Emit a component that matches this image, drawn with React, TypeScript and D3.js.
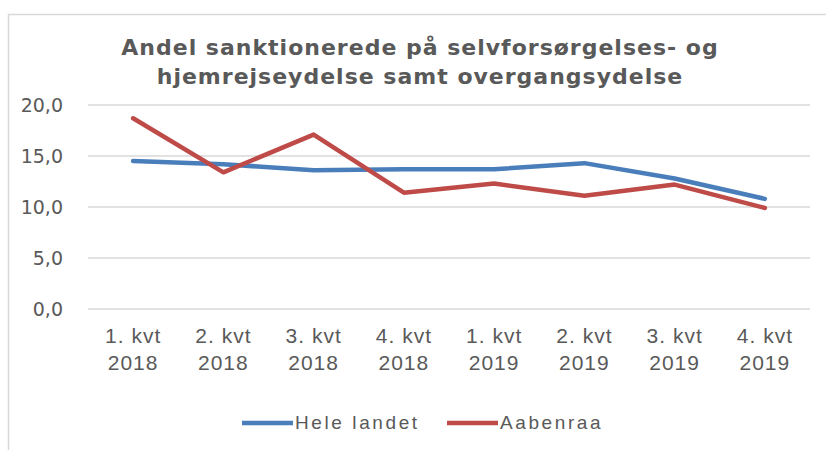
import React from 'react';
import * as d3 from 'd3';

const QUARTERS = ['1. kvt', '2. kvt', '3. kvt', '4. kvt', '1. kvt', '2. kvt', '3. kvt', '4. kvt'];
const YEARS = ['2018', '2018', '2018', '2018', '2019', '2019', '2019', '2019'];
const HELE_LANDET = [14.5, 14.2, 13.6, 13.7, 13.7, 14.3, 12.8, 10.8];
const AABENRAA = [18.7, 13.4, 17.1, 11.4, 12.3, 11.1, 12.2, 9.9];
const Y_TICKS = [0, 5, 10, 15, 20];
const TITLE_LINES = ['Andel sanktionerede på selvforsørgelses- og', 'hjemrejseydelse samt overgangsydelse'];

const SERIES = [
  { name: 'Hele landet', values: HELE_LANDET, color: '#4a7ebb' },
  { name: 'Aabenraa', values: AABENRAA, color: '#be4b48' },
];

const W = 826;
const H = 450;
const PLOT = { left: 88, right: 810, top: 105, bottom: 309 };
const TEXT = '#595959';

export default function App() {
  const keys = QUARTERS.map((_, i) => String(i));
  const x = d3.scalePoint<string>().domain(keys).range([PLOT.left, PLOT.right]).padding(0.5);
  const y = d3.scaleLinear().domain([0, 20]).range([PLOT.bottom, PLOT.top]);
  const fmt = (v: number) => d3.format('.1f')(v).replace('.', ',');

  const line = d3
    .line<number>()
    .x((_, i) => x(String(i)) as number)
    .y((d) => y(d));

  return (
    <svg
      width={W}
      height={H}
      style={{ position: 'absolute', left: 0, top: 0, background: '#fff' }}
    >
      {/* chart frame */}
      <line x1={8.5} x2={8.5} y1={14} y2={H} stroke="#d9d9d9" strokeWidth={1.5} />
      <line x1={8} x2={W} y1={14.5} y2={14.5} stroke="#d9d9d9" strokeWidth={1.5} />

      {/* title */}
      {TITLE_LINES.map((t, i) => (
        <text
          key={i}
          x={420}
          y={55 + i * 29}
          textAnchor="middle"
          fontFamily="DejaVu Sans, Verdana, sans-serif"
          fontWeight="bold"
          fontSize={22}
          letterSpacing={1}
          fill={TEXT}
        >
          {t}
        </text>
      ))}

      {/* gridlines + y labels */}
      {Y_TICKS.map((t) => (
        <g key={t}>
          <line x1={PLOT.left} x2={PLOT.right} y1={y(t)} y2={y(t)} stroke="#d9d9d9" strokeWidth={1.5} />
          <text
            x={63}
            y={y(t) + 7}
            textAnchor="end"
            fontFamily="DejaVu Sans, Verdana, sans-serif"
            fontSize={19}
            fill={TEXT}
          >
            {fmt(t)}
          </text>
        </g>
      ))}

      {/* x labels */}
      {keys.map((k, i) => (
        <text
          key={k}
          x={x(k)}
          textAnchor="middle"
          fontFamily="Liberation Sans, Arial, sans-serif"
          fontSize={21}
          letterSpacing={1}
          fill={TEXT}
        >
          <tspan x={x(k)} y={343}>{QUARTERS[i]}</tspan>
          <tspan x={x(k)} y={370}>{YEARS[i]}</tspan>
        </text>
      ))}

      {/* series */}
      {SERIES.map((s) => (
        <path
          key={s.name}
          d={line(s.values) || ''}
          fill="none"
          stroke={s.color}
          strokeWidth={4.5}
          strokeLinejoin="round"
          strokeLinecap="round"
        />
      ))}

      {/* legend */}
      {SERIES.map((s, i) => {
        const lx = 242 + i * 205;
        return (
          <g key={s.name}>
            <line x1={lx} x2={lx + 51} y1={423} y2={423} stroke={s.color} strokeWidth={4.5} />
            <text
              x={lx + 53}
              y={429}
              fontFamily="Liberation Sans, Arial, sans-serif"
              fontSize={19}
              letterSpacing={2.6}
              fill={TEXT}
            >
              {s.name}
            </text>
          </g>
        );
      })}
    </svg>
  );
}
